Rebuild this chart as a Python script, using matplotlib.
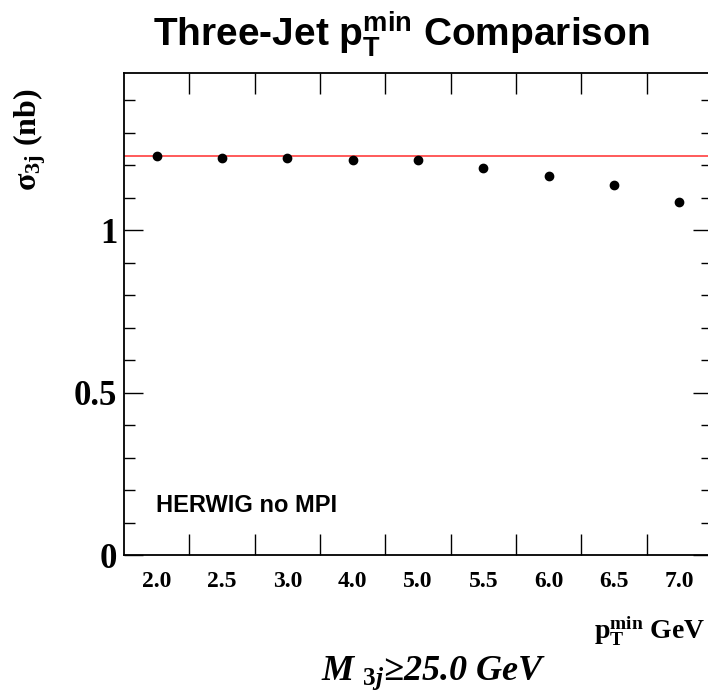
import numpy as np
import matplotlib
matplotlib.use("Agg")
import matplotlib.pyplot as plt

plt.rcParams["mathtext.fontset"] = "custom"
plt.rcParams["mathtext.rm"] = "Liberation Serif:bold"
plt.rcParams["mathtext.it"] = "Liberation Serif:bold:italic"
plt.rcParams["mathtext.sf"] = "Liberation Sans:bold"

# pT min bins and three-jet cross sections (nb)
pt_labels = ["2.0", "2.5", "3.0", "4.0", "5.0", "5.5", "6.0", "6.5", "7.0"]
sigma_3j = [1.227, 1.221, 1.222, 1.215, 1.216, 1.192, 1.166, 1.139, 1.087]
sigma_ref = 1.228

fig = plt.figure(figsize=(7.08, 6.98), dpi=100)
ax = fig.add_axes([0.1751, 0.2043, 0.8305, 0.6911])

x = np.arange(len(pt_labels))
ax.plot(x, sigma_3j, "o", color="black", markersize=6, zorder=3)
ax.axhline(sigma_ref, color="#ff5a5a", linewidth=1.4, zorder=2)

ax.set_xlim(-0.5, len(pt_labels) - 0.5)
ax.set_ylim(0, 1.483)

ax.set_xticks(x)
ax.set_xticklabels(pt_labels, fontfamily="Liberation Serif", fontweight="bold", fontsize=17)
ax.set_xticks(x[:-1] + 0.5, minor=True)
ax.tick_params(axis="x", which="major", length=0, pad=11)
ax.tick_params(axis="x", which="minor", direction="in", length=15, width=1.0, top=True)

ax.set_yticks([0, 0.5, 1])
ax.set_yticklabels(["0", "0.5", "1"], fontfamily="Liberation Serif", fontweight="bold", fontsize=25)
ax.set_yticks(np.arange(0.1, 1.45, 0.1), minor=True)
ax.tick_params(axis="y", which="major", direction="in", length=14, width=1.0, right=True, pad=5)
ax.tick_params(axis="y", which="minor", direction="in", length=8, width=1.0, right=True)

for s in ax.spines.values():
    s.set_linewidth(1.3)

ax.text(0.055, 0.09, "HERWIG no MPI", transform=ax.transAxes,
        fontfamily="Liberation Sans", fontweight="bold", fontsize=17)

fig.text(401 / 708, 1 - 46 / 698, r"Three-Jet $\mathsf{p_{T}^{min}}$ Comparison",
         ha="center", va="baseline", fontfamily="Liberation Sans", fontweight="bold", fontsize=28)

fig.text(705 / 708, 1 - 640 / 698, r"$\mathrm{p_{T}^{min}}$ GeV",
         ha="right", va="baseline", fontfamily="Liberation Serif", fontweight="bold", fontsize=20)

fig.text(434 / 708, 1 - 680 / 698, r"M $_{\mathit{3j}}$≥25.0 GeV",
         ha="center", va="baseline", fontfamily="Liberation Serif", fontweight="bold",
         fontstyle="italic", fontsize=26)

fig.text(30 / 708, 1 - 140 / 698, r"σ$_{\mathrm{3j}}$ (nb)", rotation=90,
         ha="center", va="center", fontfamily="Liberation Serif", fontweight="bold", fontsize=23)

fig.savefig("out.png", dpi=100)
